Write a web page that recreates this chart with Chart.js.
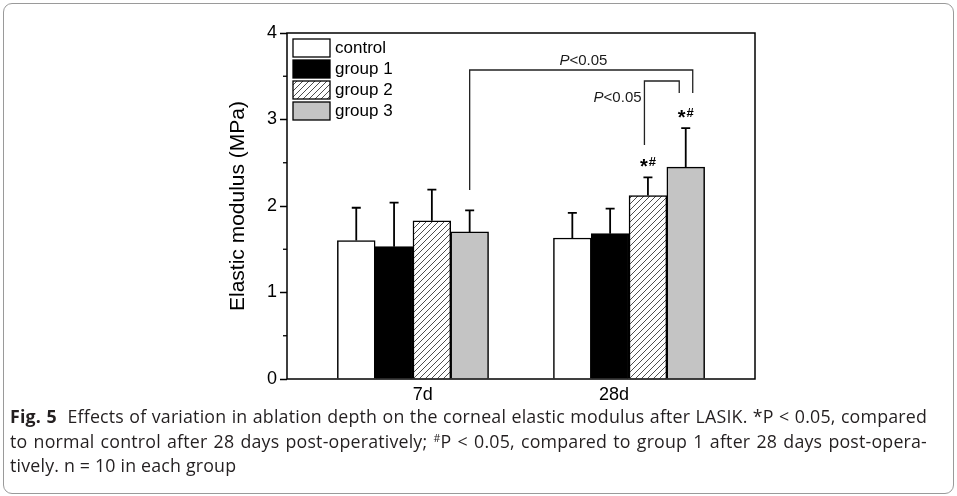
<!DOCTYPE html>
<html><head><meta charset="utf-8">
<script src="https://cdn.jsdelivr.net/npm/chart.js@4.4.1/dist/chart.umd.min.js"></script>
<style>
html,body{margin:0;padding:0;background:#fff;}
#wrap{position:relative;width:957px;height:496px;overflow:hidden;background:#fff;}
#c{position:absolute;left:0;top:0;}
#frame{position:absolute;left:3px;top:3px;width:949px;height:489px;border:1px solid #9a9a9a;border-radius:9px;}
.cap{position:absolute;left:10px;font-family:"Open Sans",sans-serif;font-size:17.5px;color:#231f20;white-space:nowrap;line-height:24px;}
.j{width:917px;text-align:justify;text-align-last:justify;}
.cap b{font-weight:700;}
.cap sup{font-size:0.6em;line-height:0;vertical-align:0.55em;}
</style></head>
<body><div id="wrap"><div id="frame"></div><canvas id="c" width="957" height="496"></canvas>
<div id="cap1" class="cap j" style="top:404px"><b>Fig. 5</b>&nbsp; Effects of variation in ablation depth on the corneal elastic modulus after LASIK. *P &lt; 0.05, compared</div>
<div id="cap2" class="cap j" style="top:429px">to normal control after 28 days post-operatively; <sup>#</sup>P &lt; 0.05, compared to group 1 after 28 days post-opera-</div>
<div id="cap3" class="cap" style="top:453px">tively. n = 10 in each group</div>
</div>
<script>
// ---- data ----
const categories = ['7d', '28d'];
const groupNames = ['control', 'group 1', 'group 2', 'group 3'];
const controlMean = [1.60, 1.63];
const group1Mean  = [1.53, 1.68];
const group2Mean  = [1.83, 2.12];
const group3Mean  = [1.70, 2.45];
const controlSD = [0.38, 0.29];
const group1SD  = [0.51, 0.29];
const group2SD  = [0.36, 0.21];
const group3SD  = [0.25, 0.45];
const yTickValues = [0, 1, 2, 3, 4];
const yTitle = 'Elastic modulus (MPa)';
const sigText = ['P', '<0.05'];
const markText = ['*', '#'];

// ---- caption fitting (canvas measurement, synchronous) ----
(function(){
  const m = document.createElement('canvas').getContext('2d');
  const txt = document.getElementById('cap1').textContent;
  m.font = '16px "Open Sans"';
  const w16 = m.measureText(txt).width;
  const fs = Math.min(17.8, 16 * 905 / w16);
  const w = w16 * fs / 16;
  const ls = Math.max(0, Math.min(0.6, (905 - w) / txt.length));
  document.querySelectorAll('.cap').forEach(d => { d.style.fontSize = fs + 'px'; d.style.letterSpacing = ls + 'px'; });
})();

const FONT = "'Liberation Sans', Arial, sans-serif";
const canvas = document.getElementById('c');
const ctx = canvas.getContext('2d');

function hatchPattern(){
  const s = 6;
  const c = document.createElement('canvas'); c.width = s; c.height = s;
  const g = c.getContext('2d');
  g.fillStyle = '#fff'; g.fillRect(0,0,s,s);
  g.strokeStyle = '#3a3a3a'; g.lineWidth = 0.9;
  g.beginPath();
  g.moveTo(0,s); g.lineTo(s,0);
  g.moveTo(-1,1); g.lineTo(1,-1);
  g.moveTo(s-1,s+1); g.lineTo(s+1,s-1);
  g.stroke();
  return ctx.createPattern(c,'repeat');
}

const means = [controlMean, group1Mean, group2Mean, group3Mean];
const sds = [controlSD, group1SD, group2SD, group3SD];
const fills = ['#ffffff', '#000000', hatchPattern(), '#c4c4c4'];
// where the category labels sit relative to the bar groups (axis units)
const labelAt = [0.045, 0.93];

const overlay = {
  id: 'overlay',
  afterDatasetsDraw(chart){
    const {ctx, chartArea:a, scales:{x, y}} = chart;
    ctx.save();
    // error bars
    ctx.strokeStyle = '#000'; ctx.lineWidth = 1.8;
    chart.data.datasets.forEach((ds,i)=>{
      const meta = chart.getDatasetMeta(i);
      meta.data.forEach((el,j)=>{
        const top = y.getPixelForValue(ds.data[j].y + ds.errors[j]);
        ctx.beginPath();
        ctx.moveTo(el.x, el.y); ctx.lineTo(el.x, top);
        ctx.moveTo(el.x-4.5, top); ctx.lineTo(el.x+4.5, top);
        ctx.stroke();
      });
    });
    // frame
    ctx.lineWidth = 1.5;
    ctx.strokeRect(a.left, a.top, a.right-a.left, a.bottom-a.top);
    // minor ticks
    ctx.lineWidth = 1.3;
    for (let k=0; k<yTickValues.length-1; k++){
      const py = y.getPixelForValue((yTickValues[k]+yTickValues[k+1])/2);
      ctx.beginPath(); ctx.moveTo(a.left-4, py); ctx.lineTo(a.left, py); ctx.stroke();
    }
    // legend
    ctx.font = '17px ' + FONT; ctx.textBaseline = 'middle'; ctx.textAlign = 'left';
    chart.data.datasets.forEach((ds,i)=>{
      const bx = a.left + 6, by = a.top + 6 + i*21;
      ctx.fillStyle = ds.backgroundColor; ctx.fillRect(bx, by, 37, 18);
      ctx.strokeStyle = '#000'; ctx.lineWidth = 1.3; ctx.strokeRect(bx, by, 37, 18);
      ctx.fillStyle = '#000'; ctx.fillText(ds.label, bx + 42, by + 9.5);
    });
    // brackets
    const m2 = chart.getDatasetMeta(2), m3 = chart.getDatasetMeta(3);
    ctx.strokeStyle = '#222'; ctx.lineWidth = 1.3;
    const bL = m3.data[0].x, bR = m3.data[1].x + 7;
    ctx.beginPath();
    ctx.moveTo(bL, y.getPixelForValue(2.185)); ctx.lineTo(bL, y.getPixelForValue(3.572));
    ctx.lineTo(bR, y.getPixelForValue(3.572)); ctx.lineTo(bR, y.getPixelForValue(3.306));
    ctx.stroke();
    const sL = m2.data[1].x - 3.5, sR = m3.data[1].x - 6.5;
    ctx.beginPath();
    ctx.moveTo(sL, y.getPixelForValue(2.705)); ctx.lineTo(sL, y.getPixelForValue(3.445));
    ctx.lineTo(sR, y.getPixelForValue(3.445)); ctx.lineTo(sR, y.getPixelForValue(3.306));
    ctx.stroke();
    // P labels
    function pLabel(cx, cy){
      ctx.fillStyle = '#1a1a1a'; ctx.textBaseline = 'middle'; ctx.textAlign = 'left';
      ctx.font = 'italic 15px ' + FONT; const w1 = ctx.measureText(sigText[0]).width;
      ctx.font = '15px ' + FONT; const w2 = ctx.measureText(sigText[1]).width;
      const x0 = cx - (w1+w2)/2;
      ctx.font = 'italic 15px ' + FONT; ctx.fillText(sigText[0], x0, cy);
      ctx.font = '15px ' + FONT; ctx.fillText(sigText[1], x0 + w1, cy);
    }
    pLabel(x.getPixelForValue(0.789), y.getPixelForValue(3.68));
    pLabel(x.getPixelForValue(0.947), y.getPixelForValue(3.25));
    // *# marks
    [[2,1],[3,1]].forEach(([di,j])=>{
      const ds = chart.data.datasets[di];
      const el = chart.getDatasetMeta(di).data[j];
      const top = y.getPixelForValue(ds.data[j].y + ds.errors[j]);
      ctx.fillStyle = '#000'; ctx.textBaseline = 'alphabetic'; ctx.textAlign = 'left';
      ctx.font = 'bold 20px ' + FONT; const wa = ctx.measureText(markText[0]).width;
      ctx.font = 'bold 13px ' + FONT; const wb = ctx.measureText(markText[1]).width;
      const x0 = el.x - (wa + wb + 1)/2;
      ctx.font = 'bold 20px ' + FONT; ctx.fillText(markText[0], x0, top - 4);
      ctx.font = 'bold 13px ' + FONT; ctx.fillText(markText[1], x0 + wa + 1, top - 11);
    });
    ctx.restore();
  }
};

new Chart(ctx, {
  type: 'bar',
  data: {
    datasets: groupNames.map((name,i)=>({
      label: name,
      data: categories.map((c,j)=>({x:j, y:means[i][j]})),
      errors: sds[i],
      backgroundColor: fills[i],
      borderColor: '#000',
      borderWidth: 1.5,
      borderSkipped: 'start',
      barThickness: 37.8
    }))
  },
  options: {
    responsive: false,
    animation: false,
    layout: {padding: {left: 226, top: 33, right: 202, bottom: 87}},
    plugins: {legend: {display: false}, tooltip: {enabled: false}},
    scales: {
      x: {
        type: 'linear', min: -0.583, max: 1.583, offset: false,
        afterBuildTicks: s => { s.ticks = categories.map((c,i)=>({value:labelAt[i]})); },
        afterFit: s => { s.height = 30; },
        ticks: {callback: (v, i) => categories[i], font: {family: FONT, size: 18}, color: '#000', padding: 5, maxRotation: 0, autoSkip: false},
        grid: {display: false, drawTicks: false},
        border: {display: false}
      },
      y: {
        min: 0, max: 4,
        afterBuildTicks: s => { s.ticks = yTickValues.map(v=>({value:v})); },
        afterFit: s => { s.width = 61; },
        ticks: {callback: v => String(v), font: {family: FONT, size: 18}, color: '#000', padding: 3},
        grid: {drawOnChartArea: false, tickLength: 7, tickWidth: 1.5, tickColor: '#000'},
        border: {display: false},
        title: {display: true, text: yTitle, font: {family: FONT, size: 21}, color: '#000', padding: 0}
      }
    }
  },
  plugins: [overlay]
});
</script>
</body></html>
